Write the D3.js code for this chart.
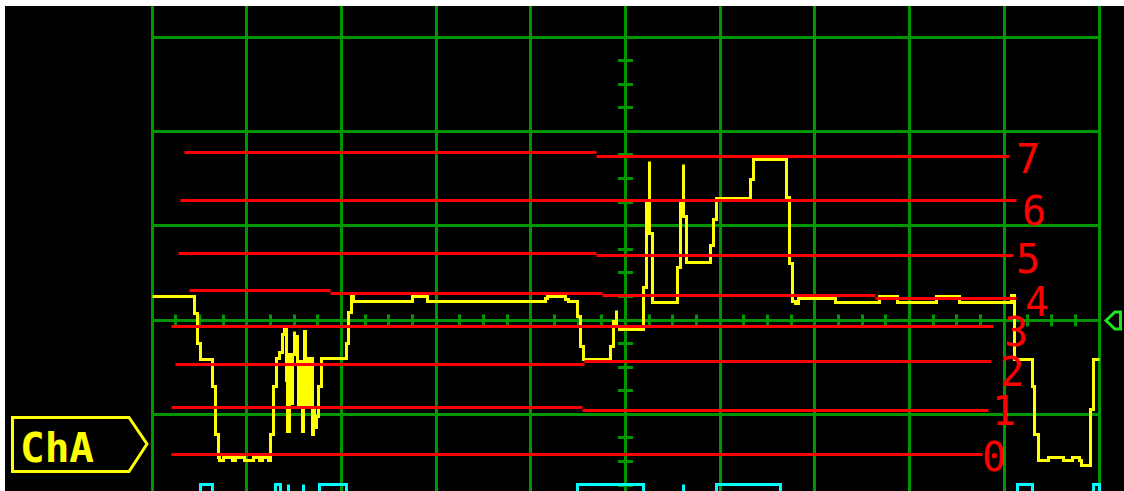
<!DOCTYPE html>
<html>
<head>
<meta charset="utf-8">
<script src="https://cdn.jsdelivr.net/npm/d3@7"></script>
<style>
  html, body { margin: 0; padding: 0; background: #fff; }
  svg { display: block; }
</style>
</head>
<body>
<svg id="scope" width="1124" height="491"></svg>
<script>
'use strict';
// units: time and level both in tenths of a division

const gridTimes = d3.range(0, 101, 10);
const gridLevels = d3.range(-30, 31, 10);
const minorStep = 2.5;

// decision thresholds 0..7 : breaks along time, level of each piece
const thresholdNames = ['0', '1', '2', '3', '4', '5', '6', '7'];
const thresholdBreaks = [
  [2.11, 87.65],
  [2.11, 45.41, 88.28],
  [2.43, 45.72, 88.60],
  [2.11, 88.91],
  [4.01, 18.80, 47.62, 76.45, 91.24],
  [2.75, 46.99, 90.92],
  [3.06, 91.24],
  [3.38, 46.99, 90.60]
];
const thresholdLevels = [
  [-14.21],
  [-9.33, -9.65],
  [-4.77, -4.45],
  [-0.64],
  [3.18, 2.86, 2.55, 2.23],
  [7.10, 6.79],
  [12.62],
  [17.71, 17.39]
];

// channel A trace [time, level]
const traceA = [
  [0, 2.5], [4.49, 2.5], [4.49, 0.74], [4.81, 0.74], [4.81, -2.44], [5.12, -2.44], [5.12, -4.14],
  [6.39, -4.14], [6.39, -7.0], [6.71, -7.0], [6.71, -12.1], [7.02, -12.1], [7.02, -14.58],
  [7.18, -14.58], [7.18, -14.9], [7.6, -14.9], [7.6, -14.58], [8.55, -14.58], [8.55, -14.9],
  [8.87, -14.9], [8.87, -14.58], [9.82, -14.58], [9.82, -14.9], [10.67, -14.9], [10.67, -14.58],
  [11.4, -14.58], [11.4, -14.9], [11.72, -14.9], [11.72, -14.58], [12.35, -14.58], [12.35, -14.9],
  [12.51, -14.9], [12.51, -12.1], [12.83, -12.1], [12.83, -7.0], [13.15, -7.0], [13.15, -4.03],
  [13.47, -4.03], [13.47, -3.4], [13.8, -3.4], [13.8, -1.5], [14.0, -1.5], [14.0, -0.85],
  [14.15, -0.85], [14.15, -6.4], [14.35, -6.4], [14.35, -11.8], [14.5, -11.8], [14.5, -3.7],
  [14.7, -3.7], [14.7, -8.9], [14.8, -8.9], [14.8, -3.7], [15.0, -3.7], [15.0, -1.2], [15.1, -1.2],
  [15.1, -3.7], [15.2, -3.7], [15.2, -1.8], [15.4, -1.8], [15.4, -4.35], [15.5, -4.35], [15.5, -9.2],
  [15.65, -9.2], [15.65, -4.35], [15.85, -4.35], [15.85, -11.8], [16.05, -11.8], [16.05, -6.4],
  [16.15, -6.4], [16.15, -1.2], [16.25, -1.2], [16.25, -9.2], [16.4, -9.2], [16.4, -4.03],
  [16.6, -4.03], [16.6, -9.2], [16.7, -9.2], [16.7, -4.03], [16.9, -4.03], [16.9, -12.1],
  [17.1, -12.1], [17.1, -9.5], [17.2, -9.5], [17.2, -11.45], [17.4, -11.45], [17.4, -10.2],
  [17.55, -10.2], [17.55, -7.0], [17.85, -7.0], [17.85, -4.1], [20.5, -4.1], [20.5, -2.45],
  [20.8, -2.45], [20.8, 0.75], [21.1, 0.75], [21.1, 2.6], [21.3, 2.6], [21.3, 1.95],
  [27.5, 1.95], [27.5, 2.5], [29.1, 2.5], [29.1, 1.95], [41.5, 1.95], [41.5, 2.3], [41.8, 2.3],
  [41.8, 2.5], [43.7, 2.5], [43.7, 2.2], [44.0, 2.2], [44.0, 1.95], [44.93, 1.95], [44.93, 0.42],
  [45.25, 0.42], [45.25, -2.76], [45.56, -2.76], [45.56, -4.14], [48.42, -4.14], [48.42, -2.76],
  [48.73, -2.76], [48.73, -0.2], [49.05, -0.2], [49.05, 1.06], [49.05, -0.64], [49.37, -0.64],
  [49.37, -1.0], [51.9, -1.0], [51.9, 3.4], [52.22, 3.4], [52.22, 12.4], [52.53, 12.4],
  [52.53, 16.86], [52.53, 9.2], [52.85, 9.2], [52.85, 1.86], [55.49, 1.86], [55.49, 5.6],
  [55.8, 5.6], [55.8, 12.4], [56.12, 12.4], [56.12, 16.54], [56.12, 11.0], [56.44, 11.0],
  [56.44, 6.15], [58.98, 6.15], [58.98, 7.85], [59.29, 7.85], [59.29, 10.7], [59.61, 10.7],
  [59.61, 12.88], [63.2, 12.88], [63.2, 14.95], [63.52, 14.95], [63.52, 17.02], [67.0, 17.02],
  [67.0, 13.04], [67.32, 13.04], [67.32, 6.04], [67.64, 6.04], [67.64, 2.0], [67.95, 2.0],
  [67.95, 1.75], [68.25, 1.75], [68.25, 2.28], [72.17, 2.28], [72.17, 1.86], [76.77, 1.86],
  [76.77, 2.49], [78.67, 2.49], [78.67, 1.86], [82.89, 1.86], [82.89, 2.49], [85.22, 2.49],
  [85.22, 1.86], [90.71, 1.86], [90.71, 2.65], [91.08, 2.65], [91.08, -4.19], [92.93, -4.19],
  [92.93, -7.0], [93.24, -7.0], [93.24, -12.1], [93.56, -12.1], [93.56, -14.9], [94.72, -14.9],
  [94.72, -14.58], [96.2, -14.58], [96.2, -14.9], [97.25, -14.9], [97.25, -14.58], [97.89, -14.58],
  [97.89, -14.9], [98.2, -14.9], [98.2, -15.38], [99.05, -15.38], [99.05, -9.54], [99.37, -9.54],
  [99.37, -4.19], [100, -4.19]
];

// decoded bus pulses [start, end]
const busPulses = [
  [5.17, 6.34], [13.09, 13.52], [14.41, 14.41], [15.95, 15.95], [17.69, 20.54],
  [44.93, 51.90], [56.12, 56.12], [59.61, 66.37], [91.39, 92.98], [99.42, 100]
];
const busHigh = -17.45;
const busLow = -19.5;

const channelName = 'ChA';

// label offsets (px) from right end of each threshold line
const labelDx = [12, 16, 21, 22, 21, 15, 18, 18];
const labelDy = [17, 14, 24, 20, 17, 17, 24, 17];

const GRID = '#009600', RED = '#ff0000', YEL = '#ffff00', CYAN = '#00ffff', MARK = '#1ee61e';

const svg = d3.select('#scope');
const xs = d3.scaleLinear().domain([0, 100]).range([152, 1099]);
const ys = d3.scaleLinear().domain([-30, 30]).range([602.9, 37.1]);
// snap to pixel centres so 3px strokes stay sharp
const snap = v => Math.floor(v) + 0.5;
const x = d => snap(xs(d));
const y = d => snap(ys(d));

svg.append('rect').attr('x', 5).attr('y', 6).attr('width', 1119).attr('height', 485).attr('fill', '#000');

const grid = svg.append('g').attr('stroke', GRID).attr('stroke-width', 3);
grid.selectAll('.vg').data(gridTimes).enter().append('line')
  .attr('x1', d => x(d)).attr('x2', d => x(d)).attr('y1', 6).attr('y2', 491);
grid.selectAll('.hg').data(gridLevels).enter().append('line')
  .attr('x1', x(0) - 1.5).attr('x2', x(100) + 1.5).attr('y1', d => y(d)).attr('y2', d => y(d));

// minor ticks on centre axes
grid.selectAll('.ht').data(d3.range(0, 100.01, minorStep)).enter().append('line')
  .attr('x1', d => x(d)).attr('x2', d => x(d)).attr('y1', y(0) - 6).attr('y2', y(0) + 6);
grid.selectAll('.vt').data(d3.range(-30, 30.01, minorStep)).enter().append('line')
  .attr('x1', x(50) - 7.5).attr('x2', x(50) + 7.5).attr('y1', d => y(d)).attr('y2', d => y(d));

const line = d3.line().x(d => x(d[0])).y(d => y(d[1]));

// bus trace
const busPts = [[0, busLow]];
busPulses.forEach(p => {
  busPts.push([p[0], busLow], [p[0], busHigh], [p[1], busHigh], [p[1], busLow]);
});
svg.append('path').attr('d', line(busPts)).attr('fill', 'none')
  .attr('stroke', CYAN).attr('stroke-width', 3);

// channel trace
svg.append('path').attr('d', line(traceA)).attr('fill', 'none')
  .attr('stroke', YEL).attr('stroke-width', 3).attr('stroke-linejoin', 'miter');

// thresholds
const th = svg.append('g');
thresholdNames.forEach((name, i) => {
  const b = thresholdBreaks[i], lv = thresholdLevels[i];
  lv.forEach((v, k) => {
    th.append('line')
      .attr('x1', x(b[k])).attr('x2', x(b[k + 1]))
      .attr('y1', y(v)).attr('y2', y(v))
      .attr('stroke', RED).attr('stroke-width', 3);
  });
  th.append('text')
    .attr('x', xs(b[b.length - 1]) + labelDx[i])
    .attr('y', ys(lv[lv.length - 1]) + labelDy[i])
    .attr('text-anchor', 'middle')
    .attr('font-family', 'DejaVu Sans Mono, monospace')
    .attr('font-size', 40)
    .attr('fill', RED)
    .text(name);
});

// channel badge
svg.append('path').attr('d', 'M12.5,417.5 H129 L147,444 L129,471.5 H12.5 Z')
  .attr('fill', 'none').attr('stroke', YEL).attr('stroke-width', 3);
svg.append('text').attr('x', 20).attr('y', 462)
  .attr('font-family', 'DejaVu Sans Mono, monospace').attr('font-weight', 'bold')
  .attr('font-size', 41).attr('fill', YEL).text(channelName);

// trigger level marker
svg.append('polygon').attr('points', '1106,320.5 1115,312 1120.5,312 1120.5,329 1115,329')
  .attr('fill', 'none').attr('stroke', MARK).attr('stroke-width', 3);
</script>
</body>
</html>
